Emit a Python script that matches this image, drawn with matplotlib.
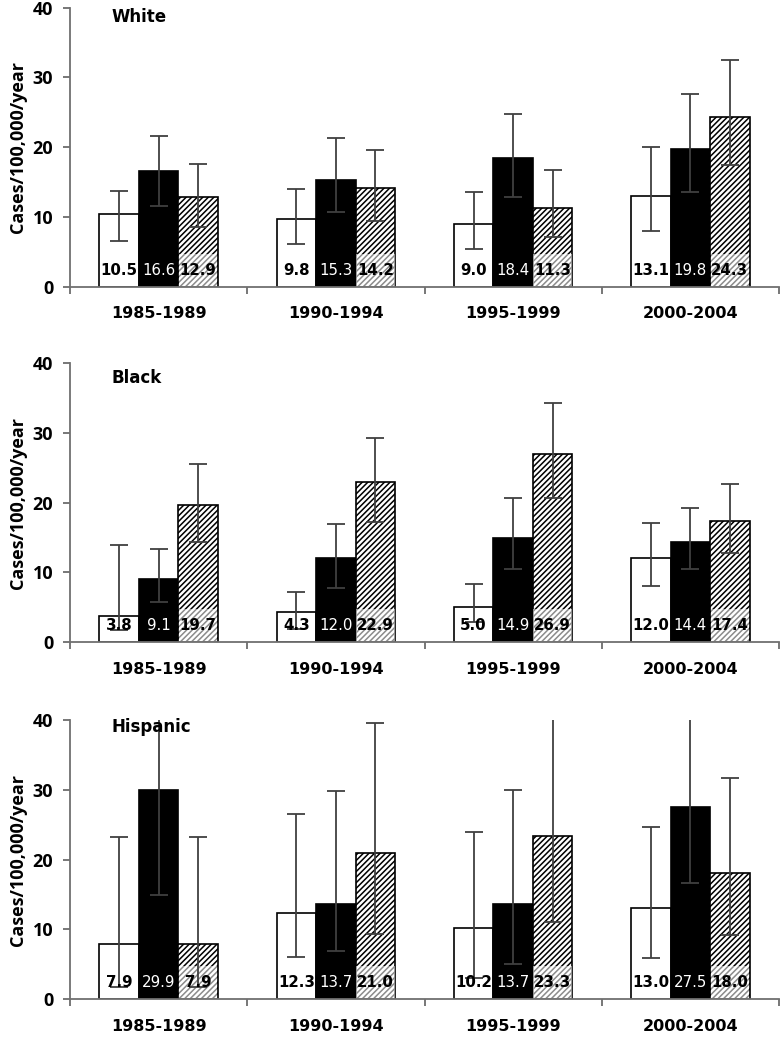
import matplotlib

matplotlib.use("Agg")
import matplotlib.pyplot as plt
import numpy as np

periods = ["1985-1989", "1990-1994", "1995-1999", "2000-2004"]
groups = ["White", "Black", "Hispanic"]

# bar values per panel: open bar, black bar, hatched bar
open_vals = {
    "White": [10.5, 9.8, 9.0, 13.1],
    "Black": [3.8, 4.3, 5.0, 12.0],
    "Hispanic": [7.9, 12.3, 10.2, 13.0],
}
black_vals = {
    "White": [16.6, 15.3, 18.4, 19.8],
    "Black": [9.1, 12.0, 14.9, 14.4],
    "Hispanic": [29.9, 13.7, 13.7, 27.5],
}
hatch_vals = {
    "White": [12.9, 14.2, 11.3, 24.3],
    "Black": [19.7, 22.9, 26.9, 17.4],
    "Hispanic": [7.9, 21.0, 23.3, 18.0],
}

# 95% CI lower / upper bounds
open_lo = {"White": [6.6, 6.1, 5.5, 8.0], "Black": [1.7, 1.9, 2.9, 8.0], "Hispanic": [1.8, 6.0, 3.0, 5.9]}
open_hi = {"White": [13.8, 14.0, 13.6, 20.1], "Black": [13.9, 7.2, 8.4, 17.1], "Hispanic": [23.2, 26.5, 23.9, 24.6]}
black_lo = {"White": [11.6, 10.8, 12.9, 13.6], "Black": [5.8, 7.8, 10.5, 10.5], "Hispanic": [14.9, 6.9, 5.1, 16.7]}
black_hi = {"White": [21.6, 21.4, 24.8, 27.6], "Black": [13.4, 16.9, 20.6, 19.2], "Hispanic": [45.0, 29.8, 30.0, 45.0]}
hatch_lo = {"White": [8.6, 9.5, 7.2, 17.4], "Black": [14.4, 17.2, 20.7, 12.8], "Hispanic": [1.8, 9.3, 11.1, 9.2]}
hatch_hi = {"White": [17.6, 19.6, 16.7, 32.5], "Black": [25.5, 29.3, 34.2, 22.7], "Hispanic": [23.2, 39.6, 45.0, 31.6]}

plt.rcParams["hatch.linewidth"] = 1.1

fig = plt.figure(figsize=(7.82, 10.37), dpi=100)
bottoms = [0.7232, 0.3806, 0.0364]
title_y = [0.966, 0.944, 0.975]
width = 0.223
label_band = 4.7  # height of the lightened strip behind the hatched-bar labels
x = np.arange(len(periods))
err_kw = dict(fmt="none", ecolor="#404040", elinewidth=1.3, capsize=6.5, capthick=1.3, zorder=3)

for gi, group in enumerate(groups):
    ax = fig.add_axes([0.0895, bottoms[gi], 0.9067, 0.2695])
    series = [
        (open_vals, open_lo, open_hi, dict(color="white", edgecolor="black"), "black", "bold"),
        (black_vals, black_lo, black_hi, dict(color="black", edgecolor="black"), "white", "normal"),
        (hatch_vals, hatch_lo, hatch_hi, dict(color="white", edgecolor="black", hatch="//////"), "black", "bold"),
    ]
    for si, (vals, lo, hi, style, tcol, tweight) in enumerate(series):
        xs = x + (si - 1) * width
        v = np.array(vals[group])
        ax.bar(xs, v, width, linewidth=1.2, zorder=2, **style)
        if si == 2:
            ax.bar(xs, np.minimum(v, label_band), width * 0.97, color="white", alpha=0.55,
                   linewidth=0, zorder=2.5)
        yerr = [v - np.array(lo[group]), np.array(hi[group]) - v]
        ax.errorbar(xs, v, yerr=yerr, **err_kw)
        for xi, val in zip(xs, v):
            ax.text(xi, 2.4, f"{val:.1f}", ha="center", va="center", color=tcol,
                    fontsize=10.8, fontweight=tweight, family="DejaVu Sans", zorder=4)

    ax.set_xlim(-0.5, 3.5)
    ax.set_ylim(0, 40)
    ax.set_yticks([0, 10, 20, 30, 40])
    ax.set_xticks(x)
    ax.set_xticklabels(periods, fontsize=11.5, fontweight="bold", family="DejaVu Sans")
    ax.set_xticks(np.arange(-0.5, 4.0, 1.0), minor=True)
    ax.tick_params(axis="x", which="major", length=0, pad=14)
    ax.tick_params(axis="x", which="minor", length=5, width=1.2, color="#606060", direction="out")
    ax.tick_params(axis="y", length=5, width=1.2, color="#606060", pad=7)
    for lab in ax.get_yticklabels():
        lab.set_fontweight("bold")
        lab.set_fontsize(13)
        lab.set_family("Open Sans")
    for side in ["top", "right"]:
        ax.spines[side].set_visible(False)
    for side in ["left", "bottom"]:
        ax.spines[side].set_color("#707070")
        ax.spines[side].set_linewidth(1.3)
    ax.set_ylabel("Cases/100,000/year", fontsize=13, fontweight="bold", family="Open Sans")
    ax.yaxis.set_label_coords(-0.06, 0.5)
    ax.text(0.059, title_y[gi], group, transform=ax.transAxes, ha="left", va="center",
            fontsize=12, fontweight="bold", family="DejaVu Sans")

fig.savefig("out.png", dpi=100)
